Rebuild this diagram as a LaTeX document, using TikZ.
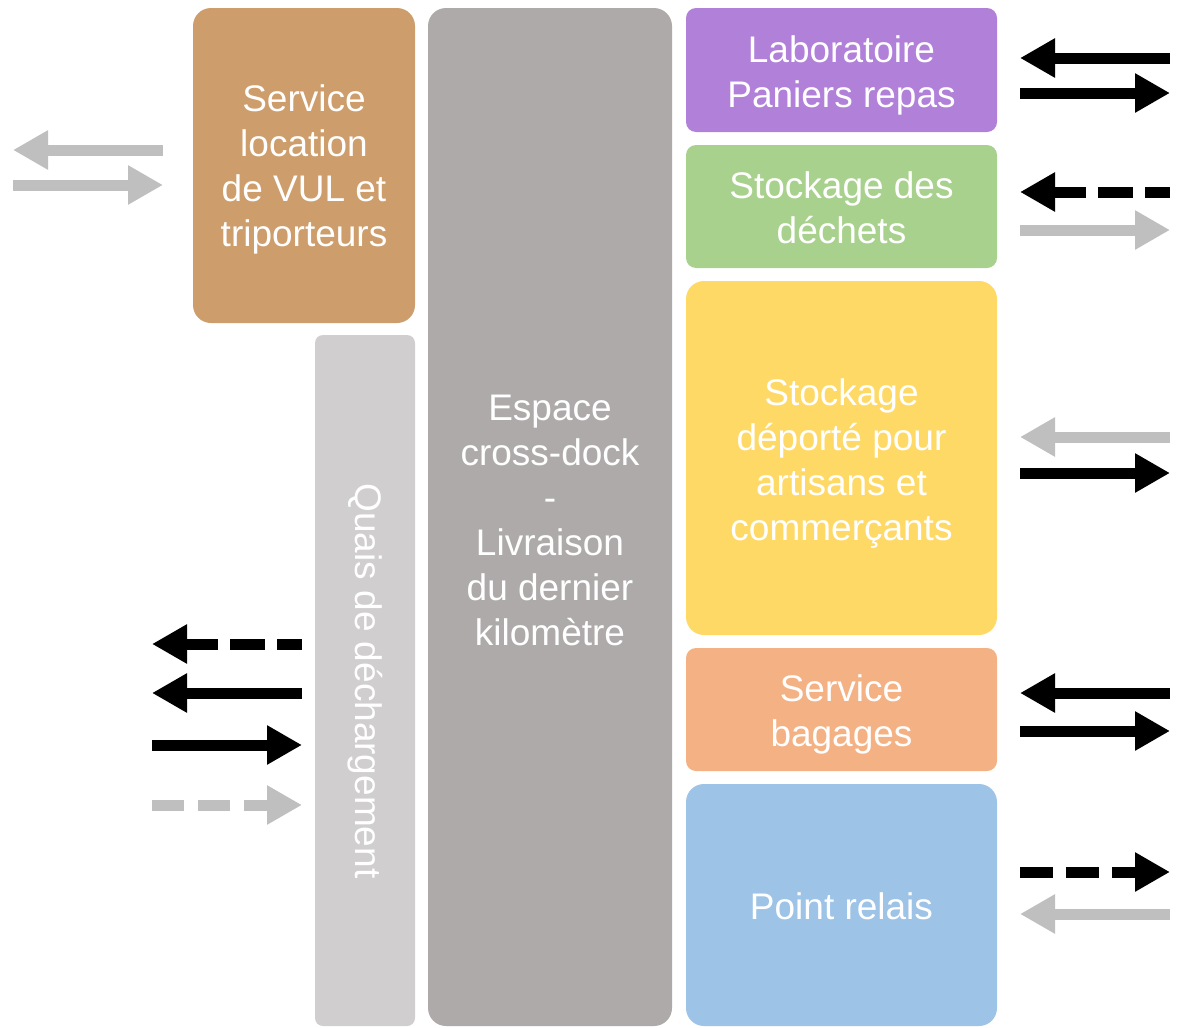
\documentclass[tikz,border=0pt]{standalone}
\usepackage{fontspec}
\setmainfont{Liberation Sans}
\usetikzlibrary{arrows.meta}
\definecolor{cTan}{HTML}{CD9D6B}
\definecolor{cQuai}{HTML}{D0CECE}
\definecolor{cCross}{HTML}{AEAAAA}
\definecolor{cPurple}{HTML}{B180D9}
\definecolor{cGreen}{HTML}{A9D18E}
\definecolor{cYellow}{HTML}{FFD966}
\definecolor{cOrange}{HTML}{F4B183}
\definecolor{cBlue}{HTML}{9DC3E6}
\definecolor{cArrGray}{HTML}{BFBFBF}
\tikzset{
  box/.style={rounded corners=18pt, draw=none},
  lbl/.style={text=white, align=center, font=\fontsize{37}{45}\selectfont, inner sep=0pt},
  flow/.style={line width=11pt, -{Triangle[length=35pt,width=37pt]}},
  dflow/.style={flow, dash pattern=on 35pt off 12pt},
  blk/.style={draw=black},
  gry/.style={draw=cArrGray},
}
\begin{document}
\begin{tikzpicture}[x=1pt,y=-1pt]
\useasboundingbox (0,0) rectangle (1179,1028);
% boxes
\fill[box,cTan] (193,8) rectangle (415,323);
\node[lbl] (loc) at (304,169.5) {Service\\location\\de VUL et\\triporteurs};
\fill[box,cQuai,rounded corners=8pt] (315,335) rectangle (415,1026);
\node[lbl,rotate=-90] (quai) at (365,681) {Quais de déchargement};
\fill[box,cCross] (428,8) rectangle (672,1026);
\node[lbl] (cross) at (550,520) {Espace\\cross-dock\\-\\Livraison\\du dernier\\kilomètre};
\fill[box,cPurple,rounded corners=10pt] (686,8) rectangle (997,132);
\node[lbl] (lab) at (841.5,75) {Laboratoire\\Paniers repas};
\fill[box,cGreen,rounded corners=10pt] (686,145) rectangle (997,268);
\node[lbl] (dech) at (841.5,208) {Stockage des\\déchets};
\fill[box,cYellow] (686,281) rectangle (997,635);
\node[lbl] (dep) at (841.5,464) {Stockage\\déporté pour\\artisans et\\commerçants};
\fill[box,cOrange,rounded corners=10pt] (686,648) rectangle (997,771);
\node[lbl] (bag) at (841.5,714) {Service\\bagages};
\fill[box,cBlue] (686,784) rectangle (997,1026);
\node[lbl] (relais) at (841.5,906) {Point relais};
% left top arrows
\coordinate (L1a) at (163,150); \coordinate (L1b) at (13,150);
\coordinate (L2a) at (13,185); \coordinate (L2b) at (163,185);
\draw[flow,gry] (L1a) -- (L1b);
\draw[flow,gry] (L2a) -- (L2b);
% left bottom arrows
\coordinate (Q1a) at (302,644); \coordinate (Q1b) at (152,644);
\coordinate (Q2a) at (302,693); \coordinate (Q2b) at (152,693);
\coordinate (Q3a) at (152,745); \coordinate (Q3b) at (302,745);
\coordinate (Q4a) at (152,805); \coordinate (Q4b) at (302,805);
\draw[dflow,blk,dash phase=10pt] (Q1a) -- (Q1b);
\draw[flow,blk] (Q2a) -- (Q2b);
\draw[flow,blk] (Q3a) -- (Q3b);
\draw[dflow,gry,dash pattern=on 32pt off 14pt] (Q4a) -- (Q4b);
% right arrows
\coordinate (R1a) at (1170,58); \coordinate (R1b) at (1020,58);
\coordinate (R2a) at (1020,93); \coordinate (R2b) at (1170,93);
\coordinate (R3a) at (1170,192); \coordinate (R3b) at (1020,192);
\coordinate (R4a) at (1020,230); \coordinate (R4b) at (1170,230);
\coordinate (R5a) at (1170,437); \coordinate (R5b) at (1020,437);
\coordinate (R6a) at (1020,473); \coordinate (R6b) at (1170,473);
\coordinate (R7a) at (1170,693); \coordinate (R7b) at (1020,693);
\coordinate (R8a) at (1020,731); \coordinate (R8b) at (1170,731);
\coordinate (R9a) at (1020,872); \coordinate (R9b) at (1170,872);
\coordinate (R10a) at (1170,914); \coordinate (R10b) at (1020,914);
\draw[flow,blk] (R1a) -- (R1b);
\draw[flow,blk] (R2a) -- (R2b);
\draw[dflow,blk,dash phase=10pt] (R3a) -- (R3b);
\draw[flow,gry] (R4a) -- (R4b);
\draw[flow,gry] (R5a) -- (R5b);
\draw[flow,blk] (R6a) -- (R6b);
\draw[flow,blk] (R7a) -- (R7b);
\draw[flow,blk] (R8a) -- (R8b);
\draw[dflow,blk,dash pattern=on 33pt off 13pt] (R9a) -- (R9b);
\draw[flow,gry] (R10a) -- (R10b);
\end{tikzpicture}
\end{document}
